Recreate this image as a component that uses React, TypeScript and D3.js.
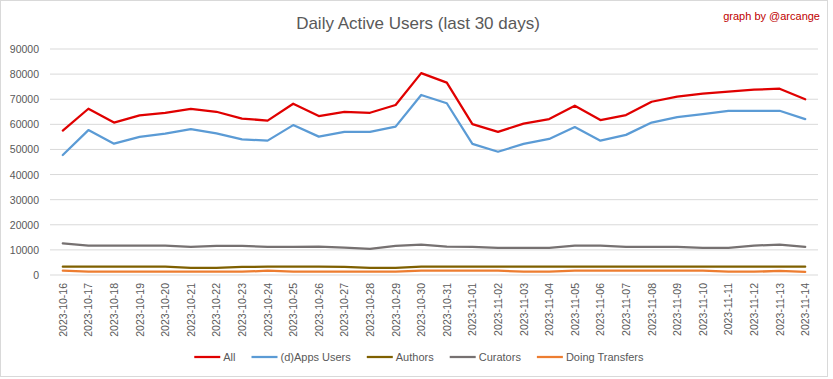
import React from "react";
import * as d3 from "d3";

const dates = [
  "2023-10-16","2023-10-17","2023-10-18","2023-10-19","2023-10-20","2023-10-21","2023-10-22","2023-10-23","2023-10-24","2023-10-25",
  "2023-10-26","2023-10-27","2023-10-28","2023-10-29","2023-10-30","2023-10-31","2023-11-01","2023-11-02","2023-11-03","2023-11-04",
  "2023-11-05","2023-11-06","2023-11-07","2023-11-08","2023-11-09","2023-11-10","2023-11-11","2023-11-12","2023-11-13","2023-11-14",
];

const allUsers = [
  57500, 66200, 60700, 63600, 64600, 66200, 65000, 62300, 61500, 68200,
  63300, 65000, 64600, 67700, 80400, 76600, 60100, 57000, 60300, 62100,
  67400, 61700, 63700, 69000, 71000, 72200, 73000, 73800, 74200, 70000,
];
const appsUsers = [
  47800, 57700, 52300, 55000, 56300, 58100, 56400, 54000, 53500, 59700,
  55100, 57000, 57000, 59100, 71700, 68400, 52200, 49100, 52200, 54200,
  58900, 53500, 55800, 60700, 62900, 64100, 65400, 65400, 65400, 62100,
];
const authors = [
  3300, 3300, 3300, 3300, 3300, 2800, 2800, 3200, 3300, 3300,
  3300, 3200, 2800, 2800, 3300, 3300, 3300, 3300, 3300, 3300,
  3300, 3300, 3300, 3300, 3300, 3300, 3300, 3300, 3300, 3300,
];
const curators = [
  12600, 11700, 11700, 11700, 11700, 11200, 11600, 11600, 11200, 11200,
  11300, 10900, 10400, 11600, 12100, 11300, 11200, 10800, 10800, 10800,
  11700, 11700, 11200, 11200, 11200, 10800, 10800, 11700, 12100, 11200,
];
const doingTransfers = [
  1700, 1300, 1300, 1300, 1300, 1300, 1300, 1300, 1700, 1300,
  1300, 1300, 1300, 1300, 1700, 1700, 1700, 1700, 1300, 1300,
  1700, 1700, 1700, 1700, 1700, 1700, 1300, 1300, 1600, 1200,
];

const yTicks = [0, 10000, 20000, 30000, 40000, 50000, 60000, 70000, 80000, 90000];

const seriesNames = ["All", "(d)Apps Users", "Authors", "Curators", "Doing Transfers"];
const seriesColors = ["#E00000", "#5B9BD5", "#7F6000", "#767171", "#ED7D31"];
const seriesValues = [allUsers, appsUsers, authors, curators, doingTransfers];

const FONT = "'Liberation Sans', Arial, sans-serif";

function measure(text: string, size: number) {
  if (typeof document === "undefined") return text.length * size * 0.5;
  const c = document.createElement("canvas").getContext("2d");
  if (!c) return text.length * size * 0.5;
  c.font = `${size}px 'Liberation Sans'`;
  return c.measureText(text).width;
}

export default function App() {
  const W = 833, H = 379;
  const left = 50, right = 818, top = 49, bottom = 275;
  const x = d3.scaleBand<string>().domain(dates).range([left, right]);
  const y = d3.scaleLinear().domain([0, 90000]).range([bottom, top]);
  const line = d3
    .line<number>()
    .x((_, i) => (x(dates[i]) as number) + x.bandwidth() / 2)
    .y((v) => y(v));

  // legend layout
  const legFont = 11;
  const sampleW = 26;
  const items = seriesNames.map((n) => ({ n, w: measure(n, legFont) }));
  const gap = 16;
  const totalW = items.reduce((s, it) => s + sampleW + 3 + it.w, 0) + gap * (items.length - 1);
  let cx = 419 - totalW / 2;
  const legendPos = items.map((it) => {
    const p = cx;
    cx += sampleW + 3 + it.w + gap;
    return p;
  });

  const order = [4, 3, 2, 1, 0];

  return (
    <svg width={W} height={H} style={{ position: "absolute", left: 0, top: 0, background: "#fff" }}>
      <rect x={0.5} y={0.5} width={827} height={376} fill="#fff" stroke="#D9D9D9" />
      <text x={418} y={29} textAnchor="middle" fontFamily={FONT} fontSize={17} fill="#595959">
        Daily Active Users (last 30 days)
      </text>
      <text x={820} y={20} textAnchor="end" fontFamily={FONT} fontSize={11} fill="#C00000">
        graph by @arcange
      </text>
      {yTicks.map((t) => (
        <g key={t}>
          <line x1={left} x2={right} y1={y(t)} y2={y(t)} stroke="#D9D9D9" strokeWidth={1} />
          <text x={39} y={y(t) + 4} textAnchor="end" fontFamily={FONT} fontSize={10.5} fill="#595959">
            {t}
          </text>
        </g>
      ))}
      {dates.map((d) => {
        const px = (x(d) as number) + x.bandwidth() / 2;
        return (
          <text
            key={d}
            transform={`translate(${px + 4},283) rotate(-90)`}
            textAnchor="end"
            fontFamily={FONT}
            fontSize={10.5}
            fill="#595959"
          >
            {d}
          </text>
        );
      })}
      {order.map((i) => (
        <path
          key={seriesNames[i]}
          d={line(seriesValues[i]) || ""}
          fill="none"
          stroke={seriesColors[i]}
          strokeWidth={2.25}
          strokeLinejoin="round"
          strokeLinecap="round"
        />
      ))}
      {items.map((it, i) => (
        <g key={it.n}>
          <line
            x1={legendPos[i]}
            x2={legendPos[i] + sampleW}
            y1={357}
            y2={357}
            stroke={seriesColors[i]}
            strokeWidth={2.25}
          />
          <text x={legendPos[i] + sampleW + 3} y={361} fontFamily={FONT} fontSize={legFont} fill="#595959">
            {it.n}
          </text>
        </g>
      ))}
    </svg>
  );
}
